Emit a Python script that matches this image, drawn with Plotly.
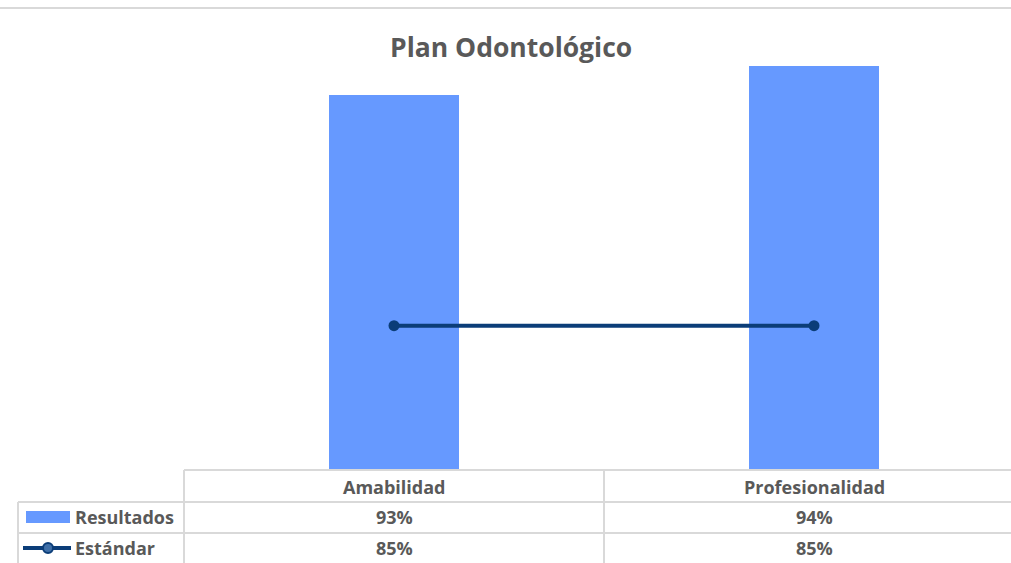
import plotly.graph_objects as go

categories = ["Amabilidad", "Profesionalidad"]
resultados = [0.93, 0.94]
estandar = [0.85, 0.85]
series_names = ["Resultados", "Estándar"]
title_text = "Plan Odontológico"

W, H = 1011, 563
L, R_EDGE, T, B_EDGE = 184, 1011, 37, 470
PW, PH = R_EDGE - L, B_EDGE - T

def px(xp):
    return (xp - L) / PW

def py(yp):
    return (B_EDGE - yp) / PH

BAR = "#6699ff"
LINE = "#0b3d78"
GRID = "#d9d9d9"
TXT = "#595959"
FONT = "Open Sans"
TFS = 18

fig = go.Figure()
fig.add_trace(go.Bar(x=categories, y=resultados, name=series_names[0],
                     marker=dict(color=BAR, line=dict(width=0)), width=0.31))
fig.add_trace(go.Scatter(x=categories, y=estandar, name=series_names[1], mode="lines+markers",
                         line=dict(color=LINE, width=4),
                         marker=dict(color=LINE, size=11)))

shapes = []
shapes.append(dict(type="line", xref="paper", yref="paper", x0=px(0), x1=px(W), y0=py(8), y1=py(8),
                   line=dict(color=GRID, width=2)))
shapes.append(dict(type="line", xref="paper", yref="paper", x0=0, x1=px(W), y0=py(470), y1=py(470),
                   line=dict(color=GRID, width=2)))
for yy in (502, 533):
    shapes.append(dict(type="line", xref="paper", yref="paper", x0=px(18), x1=px(W), y0=py(yy), y1=py(yy),
                       line=dict(color=GRID, width=2)))
shapes.append(dict(type="line", xref="paper", yref="paper", x0=0, x1=0, y0=py(470), y1=py(H),
                   line=dict(color=GRID, width=2)))
shapes.append(dict(type="line", xref="paper", yref="paper", x0=px(18), x1=px(18), y0=py(502), y1=py(H),
                   line=dict(color=GRID, width=2)))
for i in range(len(categories) - 1):
    shapes.append(dict(type="line", xref="x", yref="paper", x0=i + 0.5, x1=i + 0.5, y0=py(470), y1=py(H),
                       line=dict(color=GRID, width=2)))
shapes.append(dict(type="rect", xref="paper", yref="paper", x0=px(26), x1=px(70), y0=py(523), y1=py(511),
                   fillcolor=BAR, line=dict(width=0)))
shapes.append(dict(type="line", xref="paper", yref="paper", x0=px(23), x1=px(71), y0=py(548), y1=py(548),
                   line=dict(color=LINE, width=4)))
shapes.append(dict(type="circle", xref="paper", yref="paper", x0=px(43), x1=px(53), y0=py(553), y1=py(543),
                   fillcolor="#3f6fa8", line=dict(color=LINE, width=2)))

annotations = []
for i, c in enumerate(categories):
    annotations.append(dict(x=c, y=py(487), xref="x", yref="paper", text=f"<b>{c}</b>", showarrow=False,
                            font=dict(family=FONT, size=TFS, color=TXT), xanchor="center", yanchor="middle"))
    annotations.append(dict(x=c, y=py(517), xref="x", yref="paper", text=f"<b>{resultados[i]*100:.0f}%</b>",
                            showarrow=False, font=dict(family=FONT, size=TFS, color=TXT),
                            xanchor="center", yanchor="middle"))
    annotations.append(dict(x=c, y=py(548), xref="x", yref="paper", text=f"<b>{estandar[i]*100:.0f}%</b>",
                            showarrow=False, font=dict(family=FONT, size=TFS, color=TXT),
                            xanchor="center", yanchor="middle"))
for name, yy in zip(series_names, (517, 548)):
    annotations.append(dict(x=px(73), y=py(yy), xref="paper", yref="paper", text=f"<b>{name}</b>",
                            showarrow=False, font=dict(family=FONT, size=TFS, color=TXT),
                            xanchor="left", yanchor="middle"))
annotations.append(dict(x=px(511), y=py(47), xref="paper", yref="paper", text=f"<b>{title_text}</b>",
                        showarrow=False, font=dict(family=FONT, size=26.5, color=TXT),
                        xanchor="center", yanchor="middle"))

fig.update_layout(
    width=W, height=H,
    margin=dict(l=L, r=W - R_EDGE, t=T, b=H - B_EDGE, pad=0),
    paper_bgcolor="white", plot_bgcolor="white",
    showlegend=False,
    shapes=shapes, annotations=annotations,
    xaxis=dict(range=[-0.5, -0.5 + PW / 420], showticklabels=False, showgrid=False, zeroline=False,
               showline=False, ticks=""),
    yaxis=dict(range=[0.80, 0.95], visible=False, showgrid=False, zeroline=False),
    bargap=0,
)

fig.write_html("out.html", config={"displayModeBar": False},
               post_script="document.body.style.margin='0px';document.body.style.overflow='hidden';")
